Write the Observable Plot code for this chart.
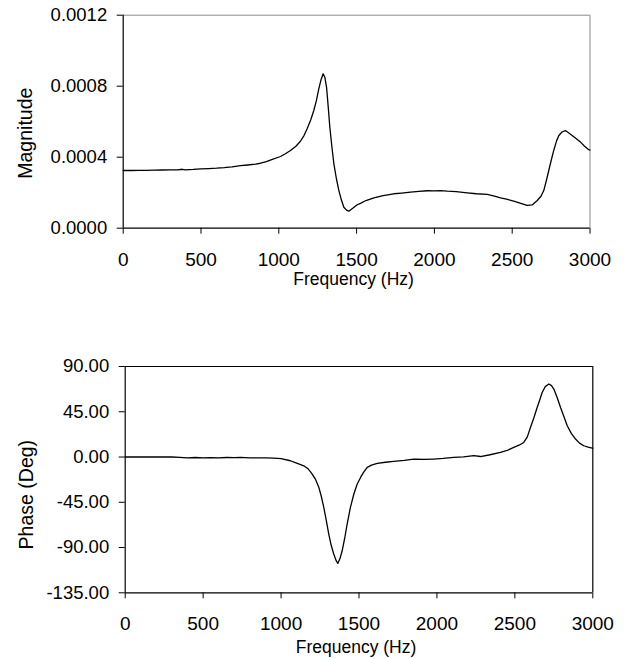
<!DOCTYPE html>
<html>
<head>
<meta charset="utf-8">
<script src="https://cdn.jsdelivr.net/npm/d3@7"></script>
<script src="https://cdn.jsdelivr.net/npm/@observablehq/plot@0.6"></script>
<style>
  html, body { margin: 0; padding: 0; background: #fff; }
  #wrap { position: relative; width: 624px; height: 659px; }
  #chartTop, #chartBottom { position: absolute; left: 0; }
  #chartTop { top: 0; }
  #chartBottom { top: 340px; }
  #wrap svg g[aria-label^="y-axis"], #wrap svg g[aria-label^="y-axis"] text { font-size: 18.5px; }
  #wrap svg g[aria-label^="x-axis"], #wrap svg g[aria-label^="x-axis"] text { font-size: 19px; }
</style>
</head>
<body>
<div id="wrap"><div id="chartTop"></div><div id="chartBottom"></div></div>
<script>
// ---- data ----
const xTicks = [0, 500, 1000, 1500, 2000, 2500, 3000];
const magTicks = [0, 0.0004, 0.0008, 0.0012];
const phaseTicks = [-135, -90, -45, 0, 45, 90];
const xLabel = "Frequency (Hz)";
const magLabel = "Magnitude";
const phaseLabel = "Phase (Deg)";

const magFreq = [0, 50, 100, 150, 200, 250, 300, 350, 380, 400, 450, 500, 550, 600, 650, 680, 700, 754, 800, 850, 883, 920, 950, 1011, 1040, 1075, 1110, 1139, 1162, 1182, 1205, 1225, 1242, 1257, 1272, 1285, 1296, 1307, 1318, 1328, 1341, 1354, 1370, 1386, 1402, 1418, 1435, 1450, 1475, 1504, 1525, 1560, 1611, 1670, 1739, 1790, 1846, 1900, 1954, 2000, 2040, 2082, 2140, 2211, 2270, 2339, 2380, 2425, 2470, 2510, 2555, 2596, 2630, 2661, 2685, 2703, 2720, 2735, 2750, 2767, 2785, 2800, 2820, 2842, 2862, 2885, 2910, 2939, 2965, 2992, 3000];
const magValue = [0.000325, 0.000325, 0.000326, 0.000326, 0.000327, 0.000328, 0.000329, 0.000329, 0.000332, 0.000329, 0.000331, 0.000334, 0.000336, 0.000338, 0.000341, 0.000344, 0.000345, 0.000352, 0.000356, 0.000361, 0.000366, 0.000375, 0.000385, 0.000404, 0.000418, 0.000438, 0.000462, 0.00049, 0.000522, 0.00056, 0.00061, 0.000663, 0.00072, 0.000785, 0.000838, 0.00087, 0.00085, 0.000794, 0.00068, 0.000569, 0.00046, 0.000363, 0.00028, 0.000212, 0.00016, 0.000118, 0.000102, 0.000096, 0.000112, 0.000132, 0.00014, 0.000156, 0.000171, 0.000183, 0.000194, 0.000198, 0.000203, 0.000207, 0.000211, 0.00021, 0.000212, 0.000209, 0.000206, 0.000199, 0.000194, 0.00019, 0.000182, 0.000171, 0.000162, 0.000152, 0.00014, 0.000128, 0.000132, 0.000156, 0.00018, 0.000212, 0.00027, 0.000325, 0.00038, 0.000438, 0.000492, 0.000522, 0.000542, 0.00055, 0.000538, 0.000522, 0.000505, 0.000485, 0.000462, 0.000442, 0.00044];

const phaseFreq = [0, 100, 200, 300, 350, 400, 450, 500, 550, 600, 650, 700, 740, 800, 850, 900, 953, 1000, 1060, 1100, 1146, 1175, 1200, 1222, 1242, 1258, 1274, 1290, 1306, 1322, 1338, 1352, 1364, 1378, 1392, 1408, 1424, 1445, 1467, 1488, 1510, 1530, 1553, 1580, 1617, 1670, 1723, 1790, 1852, 1920, 1980, 2040, 2108, 2170, 2237, 2279, 2333, 2408, 2450, 2493, 2530, 2557, 2580, 2600, 2622, 2643, 2660, 2675, 2695, 2718, 2735, 2750, 2772, 2793, 2815, 2836, 2862, 2889, 2915, 2942, 2970, 2996, 3000];
const phaseValue = [0, 0, 0, 0, -0.3, -0.8, -0.5, -0.9, -0.6, -0.8, -0.5, -0.7, -0.4, -0.8, -0.8, -0.9, -1, -1.6, -3.7, -6, -8.7, -12, -17, -22.5, -30, -39, -50, -63, -76.6, -88, -96.4, -102.5, -105.8, -101, -93.2, -81, -66.6, -50, -36.8, -27, -20.3, -15, -10.3, -8, -6.4, -5.2, -4.4, -3.3, -2, -2.4, -2, -1.4, -0.4, 0.2, 1.3, 0.5, 2, 4.6, 6.5, 9.5, 12, 14.5, 20, 29.4, 39, 49.3, 57, 64.2, 70, 72.6, 71, 67.6, 59, 49.3, 40, 31.1, 23.5, 17.9, 13.8, 11.2, 9.8, 8.9, 8.8];

const magData = magFreq.map((f, i) => ({f, v: magValue[i]}));
const phaseData = phaseFreq.map((f, i) => ({f, v: phaseValue[i]}));

const font = "'Liberation Sans', Arial, sans-serif";

const magChart = Plot.plot({
  width: 624, height: 300,
  marginLeft: 122.7, marginRight: 34.5, marginTop: 14.7, marginBottom: 72.3,
  style: {fontFamily: font, fontSize: "19px", color: "#000", background: "white", overflow: "visible"},
  x: {domain: [0, 3000], ticks: xTicks, tickFormat: d => String(d), tickSize: 6, tickPadding: 18, label: null},
  y: {domain: [0, 0.0012], ticks: magTicks, tickFormat: d => d.toFixed(4), tickSize: 6, tickPadding: 10, label: null},
  marks: [
    Plot.ruleY([0.0012], {stroke: "#8c8c8c", strokeWidth: 1}),
    Plot.ruleX([3000], {stroke: "#8c8c8c", strokeWidth: 1}),
    Plot.ruleX([0], {stroke: "#000", strokeWidth: 1.2}),
    Plot.ruleY([0], {stroke: "#000", strokeWidth: 1.2}),
    Plot.line(magData, {x: "f", y: "v", stroke: "#000", strokeWidth: 1.3}),
    Plot.text([xLabel], {frameAnchor: "bottom", lineAnchor: "middle", textAnchor: "middle", dx: -3, dy: 51, fontSize: 17.5, fill: "#000"}),
    Plot.text([magLabel], {frameAnchor: "left", lineAnchor: "middle", textAnchor: "middle", rotate: -90, dx: -97, dy: 11.5, fontSize: 19.5, fill: "#000"})
  ]
});
document.getElementById("chartTop").appendChild(magChart);

const phaseChart = Plot.plot({
  width: 624, height: 319,
  marginLeft: 124.7, marginRight: 31.7, marginTop: 26, marginBottom: 66.7,
  style: {fontFamily: font, fontSize: "19px", color: "#000", background: "white", overflow: "visible"},
  x: {domain: [0, 3000], ticks: xTicks, tickFormat: d => String(d), tickSize: 6, tickPadding: 18, label: null},
  y: {domain: [-135, 90], ticks: phaseTicks, tickFormat: d => d.toFixed(2), tickSize: 6, tickPadding: 10, label: null},
  marks: [
    Plot.ruleY([90], {stroke: "#000", strokeWidth: 1.2}),
    Plot.ruleX([3000], {stroke: "#000", strokeWidth: 1.2}),
    Plot.ruleX([0], {stroke: "#000", strokeWidth: 1.2}),
    Plot.ruleY([-135], {stroke: "#000", strokeWidth: 1.2}),
    Plot.line(phaseData, {x: "f", y: "v", stroke: "#000", strokeWidth: 1.3}),
    Plot.text([xLabel], {frameAnchor: "bottom", lineAnchor: "middle", textAnchor: "middle", dx: -3, dy: 55, fontSize: 17.5, fill: "#000"}),
    Plot.text([phaseLabel], {frameAnchor: "left", lineAnchor: "middle", textAnchor: "middle", rotate: -90, dx: -98.4, dy: 15, fontSize: 19.5, fill: "#000"})
  ]
});
document.getElementById("chartBottom").appendChild(phaseChart);
</script>
</body>
</html>
